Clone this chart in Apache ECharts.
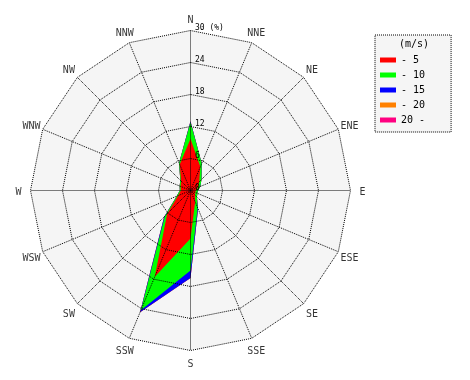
<!DOCTYPE html>
<html><head><meta charset="utf-8">
<script src="https://cdn.jsdelivr.net/npm/echarts@6/dist/echarts.min.js"></script>
<style>html,body{margin:0;padding:0;background:#fff}#c{width:470px;height:380px}</style>
</head><body><div id="c"></div>
<script>
// Directions, clockwise from north
const directions = ['N','NNE','NE','ENE','E','ESE','SE','SSE','S','SSW','SW','WSW','W','WNW','NW','NNW'];
// Wind-speed classes (m/s)
const speedClasses = ['- 5','- 10','- 15','- 20','20 -'];
const classColors = ['#ff0000','#00ff00','#0000ff','#ff8000','#ff0080'];
// Frequency (%) per class and direction
const ws5    = [9.7,4.8,2.3,1.5,1.0,1.0,1.2,2.3,9.0,17.5,6.2,2.5,1.8,2.0,2.5,5.3];
const ws10   = [3.1,0.7,0.6,0.5,0.4,0.4,0.5,1.2,6.0,6.8,0.6,0.3,0.2,0.2,0.2,0.3];
const ws15   = [0.2,0,0,0,0,0,0,0.2,1.4,0.4,0.2,0,0,0,0,0];
const ws20   = [0,0,0,0,0,0,0,0,0,0,0,0,0,0,0,0];
const ws20up = [0,0,0,0,0,0,0,0,0,0,0,0,0,0,0,0];
// Radius ticks (%)
const radiusTicks = [0,6,12,18,24,30];

const FONT = 'DejaVu Sans Mono';
const CX = 190.5, CY = 190.5, R = 160;
const layers = [ws5, ws10, ws15, ws20, ws20up];
const cum = [];
layers.forEach((l, k) => {
  cum.push(l.map((v, i) => (k ? cum[k-1][i] : 0) + v));
});
// radar draws counter-clockwise: reorder to N, NNW, NW, ... NNE
const order = directions.map((d, i) => (16 - i) % 16);
const reorder = arr => order.map(i => arr[i]);

const rMax = radiusTicks[radiusTicks.length - 1];
function makeIndicators(withLabel) {
  return order.map((idx, j) => {
    const ind = { name: directions[idx], max: rMax, min: 0 };
    if (withLabel && j === 0) {
      ind.axisLabel = {
        show: true, color: '#000', fontFamily: FONT, fontSize: 8,
        margin: -4.5, align: 'left', verticalAlign: 'bottom', lineHeight: 6,
        formatter: v => (v === rMax ? rMax + ' (%)' : String(v))
      };
    }
    return ind;
  });
}

const dataItems = [];
for (let k = layers.length - 1; k >= 0; k--) {
  dataItems.push({
    name: speedClasses[k],
    value: reorder(cum[k]),
    symbol: 'none',
    itemStyle: { color: classColors[k] },
    lineStyle: { width: 0, opacity: 0 },
    areaStyle: { color: classColors[k], opacity: 1 }
  });
}

const dotted = { color: '#000', type: [1, 1], width: 1, cap: 'butt' };
const chart = echarts.init(document.getElementById('c'), null, { renderer: 'canvas' });
chart.setOption({
  animation: false,
  backgroundColor: '#fff',
  title: {
    text: '(m/s)', left: 399, top: 39, padding: 0,
    textStyle: { fontFamily: FONT, fontSize: 10, fontWeight: 'normal', color: '#000' }
  },
  legend: {
    orient: 'vertical', left: 375, top: 35, padding: [18, 26, 5, 5],
    itemWidth: 16, itemHeight: 5, itemGap: 1, icon: 'rect',
    backgroundColor: '#f5f5f5', borderColor: '#000', borderWidth: 1, borderType: [1, 1],
    textStyle: { fontFamily: FONT, fontSize: 10, color: '#000', lineHeight: 14 },
    data: speedClasses, selectedMode: false
  },
  radar: [
    { // background
      z: 0,
      center: [CX, CY], radius: R, startAngle: 90, shape: 'polygon',
      splitNumber: radiusTicks.length - 1,
      axisName: { show: false },
      axisLine: { show: false },
      splitLine: { show: false },
      splitArea: { areaStyle: { color: ['#f5f5f5'] } },
      axisLabel: { show: false },
      indicator: makeIndicators(false)
    },
    { // grid on top of data
      z: 5,
      center: [CX, CY], radius: R, startAngle: 90, shape: 'polygon',
      splitNumber: radiusTicks.length - 1,
      axisName: { show: false },
      axisLine: { lineStyle: dotted },
      splitLine: { lineStyle: dotted },
      splitArea: { show: false },
      axisLabel: { show: false },
      indicator: makeIndicators(true)
    }
  ],
  polar: { center: [CX, CY], radius: 172 },
  angleAxis: { type: 'category', data: directions, startAngle: 90, clockwise: true, boundaryGap: false, show: false },
  radiusAxis: { min: 0, max: 1, show: false },
  series: [
    {
      type: 'radar', radarIndex: 0, silent: true, symbol: 'none', z: 2,
      data: dataItems
    },
    {
      type: 'scatter', coordinateSystem: 'polar', silent: true, symbolSize: 0,
      data: directions.map(d => [1, d]),
      label: { show: true, position: 'inside', offset: [0, 2], formatter: p => directions[p.dataIndex],
               color: '#000', fontFamily: FONT, fontSize: 10 }
    }
  ]
});
</script></body></html>
